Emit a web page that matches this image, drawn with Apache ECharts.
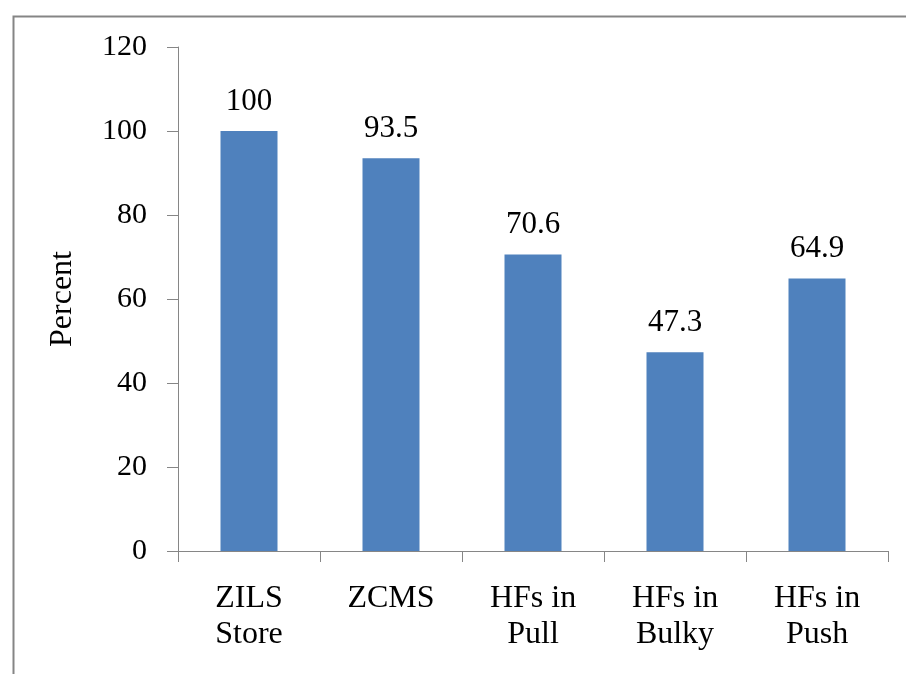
<!DOCTYPE html>
<html>
<head>
<meta charset="utf-8">
<script src="https://cdn.jsdelivr.net/npm/echarts@6/dist/echarts.min.js"></script>
<style>
  html, body { margin: 0; padding: 0; background: #fff; }
  #chart { width: 906px; height: 674px; }
</style>
</head>
<body>
<div id="chart"></div>
<script>
// Share of each storage / facility group, in percent
const categories = ['ZILS\nStore', 'ZCMS', 'HFs in\nPull', 'HFs in\nBulky', 'HFs in\nPush'];
const percentValues = [100, 93.5, 70.6, 47.3, 64.9];
const yTicks = { min: 0, max: 120, step: 20 };

const serif = '"Liberation Serif", "Times New Roman", serif';
const axisGrey = '#868686';

const chart = echarts.init(document.getElementById('chart'), null, { renderer: 'canvas' });

chart.setOption({
  backgroundColor: '#ffffff',
  animation: false,
  graphic: [{
    type: 'rect',
    left: 11,
    top: 14,
    shape: { width: 1000, height: 1000 },
    style: { fill: 'none', stroke: '#858585', lineWidth: 2 },
    silent: true
  }],
  grid: { left: 178, right: 18, top: 47, bottom: 123 },
  xAxis: {
    type: 'category',
    data: categories,
    axisLine: { lineStyle: { color: axisGrey, width: 1 } },
    axisTick: { show: true, length: 11, inside: false, alignWithLabel: false, lineStyle: { color: axisGrey } },
    axisLabel: {
      interval: 0,
      margin: 30,
      color: '#000',
      fontFamily: serif,
      fontSize: 32,
      lineHeight: 36
    }
  },
  yAxis: {
    type: 'value',
    min: yTicks.min,
    max: yTicks.max,
    interval: yTicks.step,
    name: 'Percent',
    nameLocation: 'middle',
    nameGap: 99,
    nameRotate: 90,
    nameTextStyle: { color: '#000', fontFamily: serif, fontSize: 32 },
    splitLine: { show: false },
    axisLine: { show: true, lineStyle: { color: axisGrey, width: 1 } },
    axisTick: { show: true, length: 11, lineStyle: { color: axisGrey } },
    axisLabel: { margin: 31, color: '#000', fontFamily: serif, fontSize: 30 }
  },
  series: [{
    type: 'bar',
    data: percentValues,
    barWidth: 57,
    itemStyle: { color: '#4F81BD' },
    label: {
      show: true,
      position: 'top',
      distance: 14,
      color: '#000',
      fontFamily: serif,
      fontSize: 31
    }
  }]
});
</script>
</body>
</html>
